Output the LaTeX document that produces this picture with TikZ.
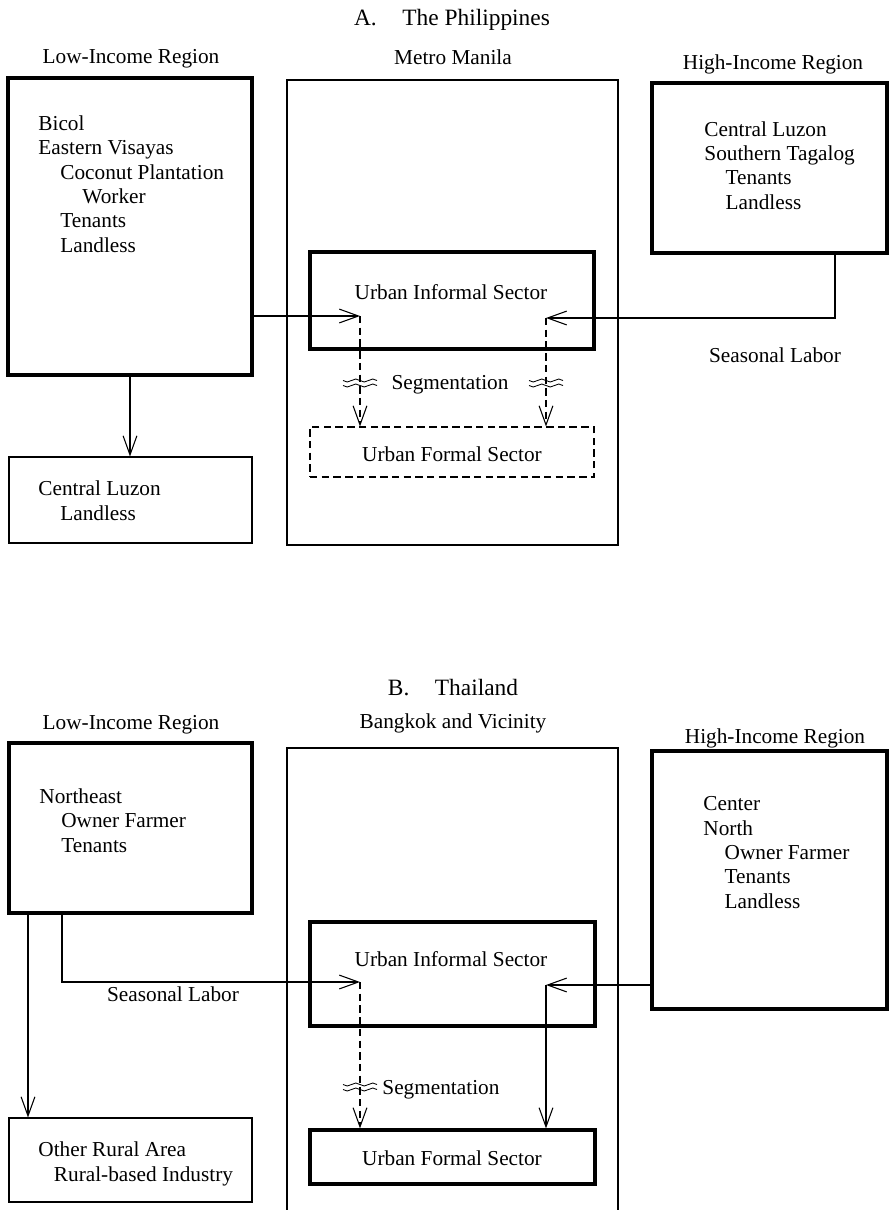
\documentclass[tikz,border=0pt]{standalone}
\usepackage{fontspec}
\setmainfont{Liberation Serif}
\usetikzlibrary{arrows.meta,fit}

\begin{document}
\begin{tikzpicture}[x=0.47pt,y=-0.47pt,>={Straight Barb[length=9pt,width=6.5pt]},
  heavy/.style={draw,line width=1.5pt,inner sep=0pt},
  light/.style={draw,line width=0.5pt,inner sep=0pt},
  broken/.style={draw,line width=0.5pt,inner sep=0pt,dash pattern=on 3.5pt off 2pt},
  txt/.style={inner sep=0pt,font=\fontsize{10}{11.4}\selectfont,align=left},
  head/.style={inner sep=0pt,font=\fontsize{11}{13}\selectfont},
  link/.style={->,line width=0.5pt},
  cut/.style={link,dash pattern=on 3.5pt off 2pt},
  wiggle/.pic={\foreach \dy in {-2.5,2.5}
    \draw[line width=0.4pt] (-17,\dy) sin ++(4.25,1.5) cos ++(4.25,-1.5) sin ++(4.25,-1.5) cos ++(4.25,1.5)
      sin ++(4.25,1.5) cos ++(4.25,-1.5) sin ++(4.25,-1.5) cos ++(4.25,1.5);}]
\useasboundingbox (0,0) rectangle (890,1210);

% A. The Philippines
\node[head,anchor=base] (titleA) at (452,25) {A.\hspace{12pt}The Philippines};
\node[txt,anchor=base] (lowAlab) at (131,63) {Low-Income Region};
\node[txt,anchor=base] (metroAlab) at (453,64) {Metro Manila};
\node[txt,anchor=base] (highAlab) at (773,69) {High-Income Region};

\node[heavy,fit={(8,78) (252,375)}] (lowA) {};
% base of a multi-line node = its last line
\node[txt,anchor=base west] (lowAtxt) at (38,252) {Bicol\\Eastern Visayas\\\hspace*{10.3pt}Coconut Plantation\\\hspace*{20.7pt}Worker\\\hspace*{10.3pt}Tenants\\\hspace*{10.3pt}Landless};
\node[light,fit={(9,457) (252,543)}] (luzonA) {};
\node[txt,anchor=base west] (luzonAtxt) at (38,520) {Central Luzon\\\hspace*{10.3pt}Landless};

\node[light,fit={(287,80) (618,545)}] (metroA) {};
\node[heavy,fit={(310,252) (594,349)}] (infA) {};
\node[txt,anchor=base] (infAtxt) at (451,299) {Urban Informal Sector};
\node[broken,fit={(310,427) (594,477)}] (formA) {};
\node[txt,anchor=base] (formAtxt) at (452,461) {Urban Formal Sector};
\node[txt,anchor=base] (segA) at (450,389) {Segmentation};

\node[heavy,fit={(652,83) (887,253)}] (highA) {};
\node[txt,anchor=base west] (highAtxt) at (704,209) {Central Luzon\\Southern Tagalog\\\hspace*{10pt}Tenants\\\hspace*{10pt}Landless};
\node[txt,anchor=base] (seasA) at (775,362) {Seasonal Labor};

\coordinate (inA) at (360,316);
\coordinate (inA2) at (546,318);
\coordinate (turnA) at (835,318);
\draw[link] (lowA.south) -- (lowA.south |- luzonA.north);
\draw[link] (lowA.east |- inA) -- (inA);
\draw[link] (highA.south -| turnA) -- (turnA) -- (inA2);
\draw[cut] (inA) -- (inA |- formA.north);
\draw[cut] (inA2) -- (inA2 |- formA.north);
\pic at (360,383) {wiggle};
\pic at (546,383) {wiggle};

% B. Thailand
\node[head,anchor=base] (titleB) at (453,695) {B.\hspace{12pt}Thailand};
\node[txt,anchor=base] (lowBlab) at (131,729) {Low-Income Region};
\node[txt,anchor=base] (bkkBlab) at (453,728) {Bangkok and Vicinity};
\node[txt,anchor=base] (highBlab) at (775,743) {High-Income Region};

\node[heavy,fit={(9,743) (252,913)}] (lowB) {};
\node[txt,anchor=base west] (lowBtxt) at (39,852) {Northeast\\\hspace*{10.3pt}Owner Farmer\\\hspace*{10.3pt}Tenants};
\node[light,fit={(9,1118) (252,1202)}] (otherB) {};
\node[txt,anchor=base west] (otherBtxt) at (38,1181) {Other Rural Area\\\hspace*{7.3pt}Rural-based Industry};
\node[txt,anchor=base] (seasB) at (173,1001) {Seasonal Labor};

\node[light,fit={(287,748) (618,1230)}] (bkkB) {};
\node[heavy,fit={(310,922) (595,1026)}] (infB) {};
\node[txt,anchor=base] (infBtxt) at (451,966) {Urban Informal Sector};
\node[heavy,fit={(310,1130) (595,1184)}] (formB) {};
\node[txt,anchor=base] (formBtxt) at (452,1165) {Urban Formal Sector};
\node[txt,anchor=base west] (segB) at (382,1094) {Segmentation};

\node[heavy,fit={(652,751) (887,1009)}] (highB) {};
\node[txt,anchor=base west] (highBtxt) at (703,908) {Center\\North\\\hspace*{10pt}Owner Farmer\\\hspace*{10pt}Tenants\\\hspace*{10pt}Landless};

\coordinate (dropB) at (28,1118);
\coordinate (turnB) at (62,982);
\coordinate (inB) at (360,982);
\coordinate (inB2) at (546,985);
\draw[link] (lowB.south -| dropB) -- (otherB.north -| dropB);
\draw[link] (lowB.south -| turnB) -- (turnB) -- (inB);
\draw[link] (highB.west |- inB2) -- (inB2);
\draw[cut] (inB) -- (inB |- formB.north);
\draw[link] (inB2) -- (inB2 |- formB.north);
\pic at (360,1087) {wiggle};
\end{tikzpicture}
\end{document}
